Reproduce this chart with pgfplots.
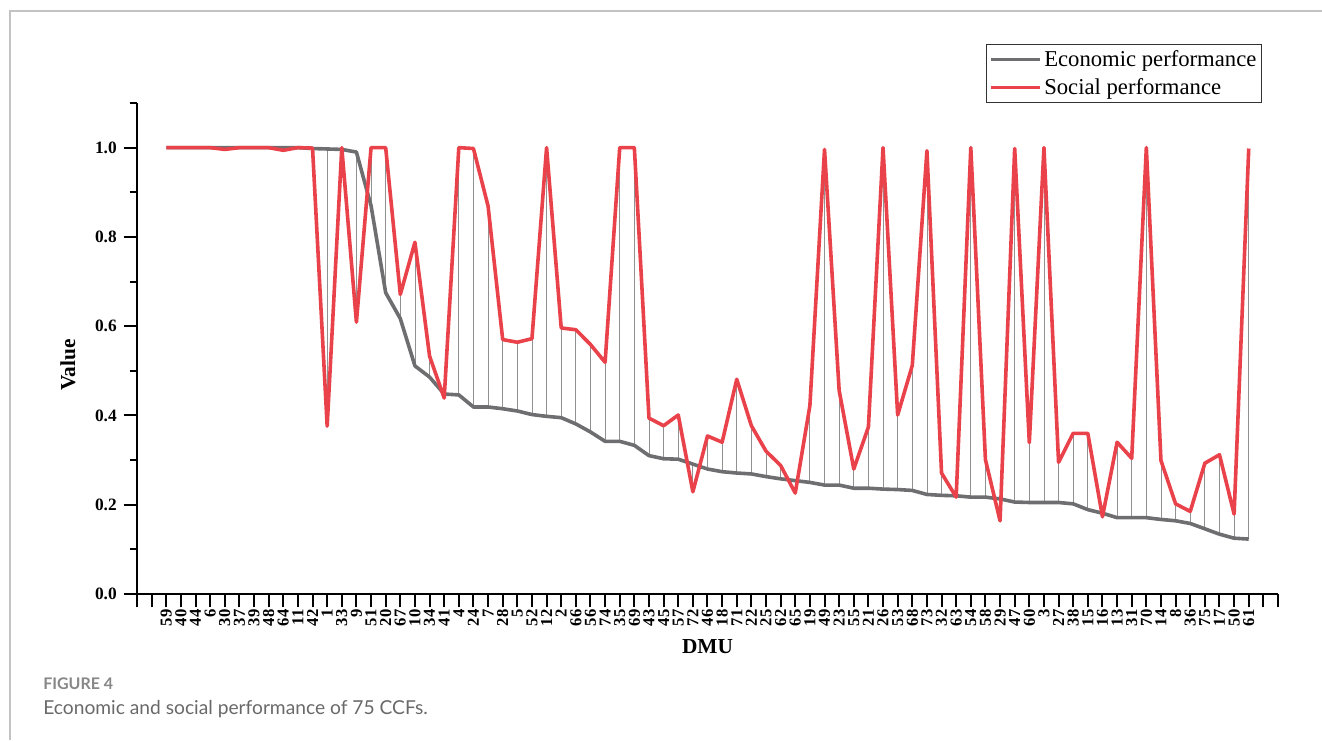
\documentclass[border=0pt]{standalone}
\usepackage{pgfplots}
\pgfplotsset{compat=1.18}
\usepackage{pgfplotstable}
\usepackage{fontspec}
\setmainfont{Liberation Serif}
\newfontfamily\capfont{Lato}
\definecolor{ecogray}{RGB}{110,110,113}
\definecolor{socred}{RGB}{234,66,74}
\definecolor{dropgray}{RGB}{145,145,145}
\definecolor{capgray}{RGB}{105,105,105}
\definecolor{framegray}{RGB}{195,195,195}

\pgfplotstableread{
i eco soc
0 1.000 1.000
1 1.000 1.000
2 1.000 1.000
3 1.000 1.000
4 1.000 0.996
5 1.000 1.000
6 1.000 1.000
7 1.000 1.000
8 1.000 0.994
9 1.000 1.000
10 0.998 0.999
11 0.997 0.376
12 0.996 1.000
13 0.990 0.609
14 0.870 1.000
15 0.675 1.000
16 0.617 0.671
17 0.511 0.788
18 0.486 0.533
19 0.448 0.439
20 0.446 1.000
21 0.419 0.998
22 0.419 0.869
23 0.415 0.570
24 0.410 0.564
25 0.402 0.572
26 0.398 1.000
27 0.395 0.596
28 0.381 0.592
29 0.363 0.559
30 0.342 0.519
31 0.342 1.000
32 0.333 1.000
33 0.310 0.394
34 0.303 0.377
35 0.302 0.401
36 0.291 0.229
37 0.280 0.354
38 0.274 0.340
39 0.271 0.481
40 0.269 0.377
41 0.263 0.320
42 0.258 0.288
43 0.254 0.226
44 0.250 0.422
45 0.244 0.996
46 0.244 0.456
47 0.237 0.280
48 0.237 0.374
49 0.235 1.000
50 0.234 0.401
51 0.232 0.512
52 0.223 0.993
53 0.221 0.271
54 0.220 0.217
55 0.217 1.000
56 0.217 0.301
57 0.213 0.164
58 0.206 0.998
59 0.205 0.339
60 0.205 1.000
61 0.205 0.295
62 0.202 0.360
63 0.189 0.360
64 0.181 0.173
65 0.171 0.340
66 0.171 0.304
67 0.171 1.000
68 0.167 0.299
69 0.164 0.202
70 0.158 0.185
71 0.146 0.293
72 0.134 0.312
73 0.125 0.179
74 0.123 0.998
}\data

\begin{document}
\begin{tikzpicture}[x=0.75pt,y=0.75pt]
\useasboundingbox (0,0) rectangle (1322,740);
\draw[framegray, line width=0.9pt] (10,0) -- (10,729) -- (1322,729);
\coordinate (AX) at (137,146);
\begin{axis}[
  at={(AX)}, anchor=south west,
  scale only axis, width=855.75pt, height=368.25pt,
  xmin=-2, xmax=76, ymin=0, ymax=1.1,
  axis x line=bottom, axis y line=left,
  axis line style={line width=1.5pt, -},
  tick align=outside,
  tick style={line width=1.5pt, black},
  major tick length=10pt, minor tick length=5.5pt,
  xtick={-2,...,76},
  xticklabels={,,59,40,44,6,30,37,39,48,64,11,42,1,33,9,51,20,67,10,34,41,4,24,7,28,5,52,12,2,66,56,74,35,69,43,45,57,72,46,18,71,22,25,62,65,19,49,23,55,21,26,53,68,73,32,63,54,58,29,47,60,3,27,38,15,16,13,31,70,14,8,36,75,17,50,61,,},
  x tick label style={rotate=90, anchor=east, font=\fontsize{12.5}{12.5}\selectfont\bfseries, inner sep=1.5pt},
  ytick={0,0.2,0.4,0.6,0.8,1.0},
  minor ytick={0.1,0.3,0.5,0.7,0.9,1.1},
  /pgf/number format/assume math mode=true,
  yticklabel style={/pgf/number format/fixed, /pgf/number format/fixed zerofill, /pgf/number format/precision=1, font=\fontsize{13}{13}\selectfont\bfseries, inner sep=5pt},
  xlabel={DMU}, ylabel={Value},
  label style={font=\fontsize{16}{16}\selectfont\bfseries},
  xlabel style={at={(axis description cs:0.5,-0.108)}, anchor=center},
  ylabel style={at={(axis description cs:-0.0605,0.466)}, anchor=center},
  legend style={at={(0.9855,1)}, anchor=south east, draw=black!80, line width=0.6pt,
    font=\fontsize{17}{19}\selectfont, inner xsep=1.5pt, inner ysep=2.5pt, row sep=3.5pt,
    legend cell align=left},
  legend image code/.code={\draw[#1] (0pt,0pt) -- (37pt,0pt);},
]
\addplot[draw=none, forget plot, error bars/.cd, y dir=both, y explicit, error mark=none,
  error bar style={draw=dropgray, line width=0.6pt, solid}]
  table[x=i, y=eco,
    y error plus expr={max(\thisrow{soc}-\thisrow{eco},0)},
    y error minus expr={max(\thisrow{eco}-\thisrow{soc},0)}] {\data};
\addplot[ecogray, line width=2.7pt, line join=round] table[x=i, y=eco] {\data};
\addlegendentry{Economic performance}
\addplot[socred, line width=2.7pt, line join=round] table[x=i, y=soc] {\data};
\addlegendentry{Social performance}
\end{axis}
\node[anchor=base west, font=\capfont\bfseries\fontsize{12}{13}\selectfont, text=capgray!80, inner sep=0pt] at (43,51) {FIGURE 4};
\node[anchor=base west, font=\capfont\fontsize{14.4}{16}\selectfont, text=capgray, inner sep=0pt] at (43,26) {Economic and social performance of 75 CCFs.};
\end{tikzpicture}
\end{document}
